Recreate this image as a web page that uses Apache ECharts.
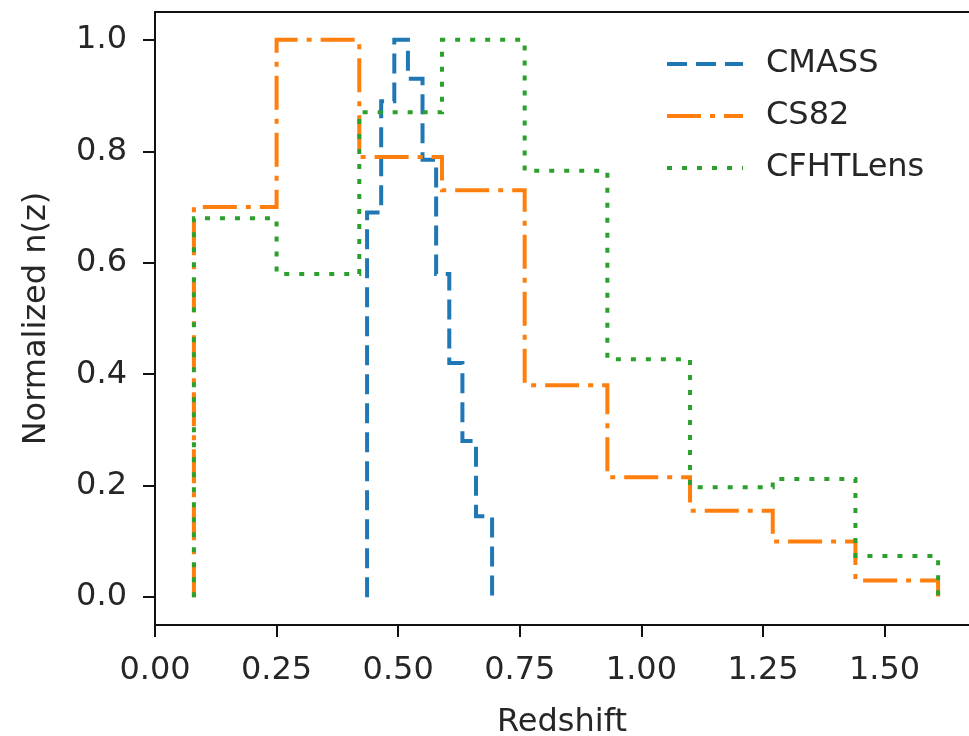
<!DOCTYPE html>
<html>
<head>
<meta charset="utf-8">
<script src="https://cdn.jsdelivr.net/npm/echarts@6/dist/echarts.min.js"></script>
<style>
html,body{margin:0;padding:0;background:#fff;}
#chart{width:969px;height:736px;}
</style>
</head>
<body>
<div id="chart"></div>
<script>
// Bin edges and normalized heights
const cmassEdges = [0.436, 0.465, 0.492, 0.520, 0.550, 0.578, 0.605, 0.632, 0.660, 0.693];
const cmassValues = [0.69, 0.89, 1.00, 0.93, 0.785, 0.58, 0.42, 0.28, 0.145];

const cs82Edges = [0.08, 0.25, 0.42, 0.59, 0.76, 0.93, 1.10, 1.27, 1.44, 1.61];
const cs82Values = [0.70, 1.00, 0.79, 0.73, 0.38, 0.215, 0.155, 0.10, 0.03];

const cfhtEdges = [0.08, 0.25, 0.42, 0.59, 0.76, 0.93, 1.10, 1.27, 1.44, 1.61];
const cfhtValues = [0.68, 0.58, 0.87, 1.00, 0.765, 0.427, 0.197, 0.212, 0.074];

const seriesNames = ['CMASS', 'CS82', 'CFHTLens'];
const xTicks = [0, 0.25, 0.5, 0.75, 1.0, 1.25, 1.5];
const yTicks = [0, 0.2, 0.4, 0.6, 0.8, 1.0];

const colors = ['#1f77b4', '#ff7f0e', '#2ca02c'];
const dashes = [[20, 9], [34, 9, 5, 9], [5, 10]];

function stepPoints(edges, values) {
  const pts = [[edges[0], 0]];
  for (let i = 0; i < values.length; i++) {
    pts.push([edges[i], values[i]]);
    pts.push([edges[i + 1], values[i]]);
  }
  pts.push([edges[edges.length - 1], 0]);
  return pts;
}

const FONT = 'DejaVu Sans';
const FS = 32;
const chart = echarts.init(document.getElementById('chart'), null, {renderer: 'canvas'});

const mkSeries = (i, edges, values) => ({
  name: seriesNames[i],
  type: 'line',
  data: stepPoints(edges, values),
  showSymbol: false,
  symbol: 'none',
  animation: false,
  lineStyle: {color: colors[i], width: 4, type: dashes[i], cap: 'butt', join: 'miter'},
  itemStyle: {color: colors[i]}
});

chart.setOption({
  animation: false,
  grid: {left: 155, right: 0, top: 12, bottom: 111, containLabel: false, outerBoundsMode: 'none'},
  legend: {
    data: seriesNames.map((n, i) => ({
      name: n,
      lineStyle: {color: colors[i], width: 4, type: dashes[i], cap: 'butt'}
    })),
    orient: 'vertical',
    left: 660,
    top: 43,
    itemWidth: 76,
    itemHeight: 6,
    itemGap: 20,
    itemStyle: {opacity: 0},
    textStyle: {fontFamily: FONT, fontSize: FS, color: '#262626', padding: [0, 0, 0, 18]}
  },
  xAxis: [{
    type: 'value',
    min: 0,
    max: 1.6735,
    name: 'Redshift',
    nameLocation: 'middle',
    nameGap: 82,
    nameTextStyle: {fontFamily: FONT, fontSize: FS, color: '#262626'},
    axisLine: {show: true, onZero: false, lineStyle: {color: '#111', width: 2}},
    axisTick: {show: true, inside: false, length: 12, lineStyle: {color: '#111', width: 2}, customValues: xTicks},
    axisLabel: {show: true, margin: 30, fontFamily: FONT, fontSize: FS, color: '#262626',
      customValues: xTicks, formatter: v => v.toFixed(2)},
    splitLine: {show: false}
  }, {
    type: 'value',
    position: 'top',
    min: 0,
    max: 1.6735,
    axisLine: {show: true, onZero: false, lineStyle: {color: '#111', width: 2}},
    axisTick: {show: false},
    axisLabel: {show: false},
    splitLine: {show: false}
  }],
  yAxis: {
    type: 'value',
    min: -0.05,
    max: 1.05,
    name: 'Normalized n(z)',
    nameLocation: 'middle',
    nameGap: 102,
    nameTextStyle: {fontFamily: FONT, fontSize: FS, color: '#262626'},
    axisLine: {show: true, onZero: false, lineStyle: {color: '#111', width: 2}},
    axisTick: {show: true, inside: false, length: 12, lineStyle: {color: '#111', width: 2}, customValues: yTicks},
    axisLabel: {show: true, margin: 28, fontFamily: FONT, fontSize: FS, color: '#262626',
      customValues: yTicks, formatter: v => v.toFixed(1)},
    splitLine: {show: false}
  },
  series: [
    mkSeries(0, cmassEdges, cmassValues),
    mkSeries(1, cs82Edges, cs82Values),
    mkSeries(2, cfhtEdges, cfhtValues)
  ]
});
</script>
</body>
</html>
